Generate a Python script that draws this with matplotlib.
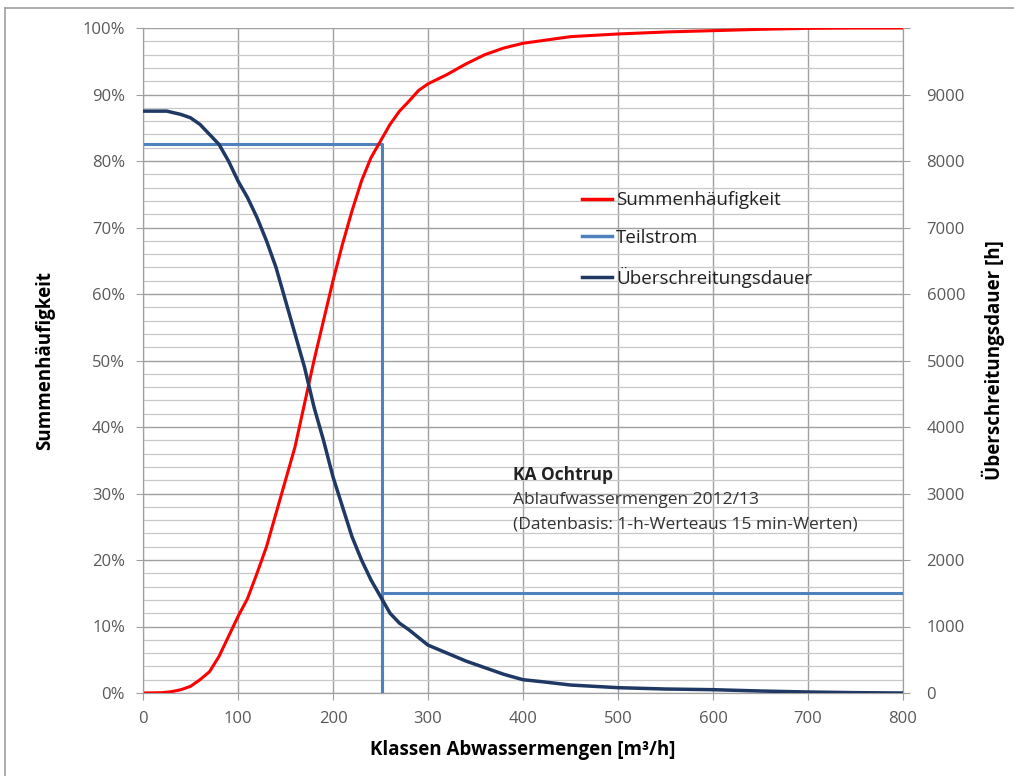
import numpy as np
import matplotlib.pyplot as plt
from matplotlib.lines import Line2D

plt.rcParams['font.family'] = ['Open Sans', 'DejaVu Sans']

# Summenhäufigkeit [%] over Klassen Abwassermengen [m3/h]
x_sum = [0, 20, 30, 40, 50, 60, 70, 80, 90, 100, 110, 120, 130, 140, 150, 160,
         170, 180, 190, 200, 210, 220, 230, 240, 250, 260, 270, 280, 290, 300,
         320, 340, 360, 380, 400, 420, 450, 500, 550, 600, 650, 700, 750, 800]
summe = [0, 0.05, 0.2, 0.5, 1.0, 2.0, 3.2, 5.5, 8.5, 11.5, 14.2, 18, 22, 27, 32, 37,
         43.5, 50, 56, 62, 67.5, 72.5, 77, 80.5, 83, 85.5, 87.5, 89, 90.6, 91.6,
         93, 94.6, 96, 97, 97.7, 98.1, 98.7, 99.1, 99.4, 99.6, 99.8, 99.95, 100, 100]

# Überschreitungsdauer [h]
x_dauer = [0, 25, 40, 50, 60, 70, 80, 90, 100, 110, 120, 130, 140, 150, 160, 170,
           180, 190, 200, 210, 220, 230, 240, 250, 260, 270, 280, 293, 300, 320,
           340, 360, 380, 400, 420, 450, 500, 550, 600, 650, 700, 750, 800]
dauer = [8750, 8750, 8700, 8650, 8550, 8400, 8250, 8000, 7700, 7450, 7150, 6800, 6400,
         5900, 5400, 4900, 4300, 3800, 3250, 2800, 2350, 2000, 1700, 1450, 1200, 1050,
         950, 800, 720, 600, 480, 380, 280, 200, 170, 120, 80, 60, 50, 30, 15, 5, 0]

# Teilstrom step [%]
x_teil = [0, 252, 252, 252, 800]
teil = [82.5, 82.5, 0, 15, 15]

red = '#ff0000'
light_blue = '#4f81bd'
navy = '#1f3864'
grey_txt = '#595959'

fig = plt.figure(figsize=(10.14, 7.76), dpi=100)
ax = fig.add_axes([143 / 1014, 1 - 693 / 776, 760 / 1014, 665 / 776])
ax2 = ax.twinx()

ax.set_xlim(0, 800)
ax.set_ylim(0, 100)
ax2.set_ylim(0, 10000)

ax.set_xticks(np.arange(0, 801, 100))
ax.set_yticks(np.arange(0, 101, 10))
ax.set_yticks(np.arange(0, 101, 2), minor=True)
ax.set_yticklabels([f'{v}%' for v in range(0, 101, 10)])
ax2.set_yticks(np.arange(0, 10001, 1000))
ax2.set_yticklabels([str(v) for v in range(0, 10000, 1000)] + [''])

ax.grid(which='major', color='#a0a0a0', lw=1.0)
ax.grid(which='minor', axis='y', color='#c8c8c8', lw=0.9)
ax.set_axisbelow(True)

for a in (ax, ax2):
    a.spines['top'].set_visible(False)
    for s in ('left', 'right', 'bottom'):
        a.spines[s].set_color('#a0a0a0')
    a.tick_params(colors='#a0a0a0', labelcolor=grey_txt, labelsize=12, length=5)
ax.tick_params(axis='y', which='minor', length=0)
ax.tick_params(axis='x', pad=8)
ax.tick_params(axis='y', pad=8)
ax2.tick_params(axis='y', pad=12)

ax.plot(x_teil, teil, color=light_blue, lw=2.2, zorder=3)
ax.plot(x_sum, summe, color=red, lw=2.2, zorder=4)
ax2.plot(x_dauer, dauer, color=navy, lw=2.5, zorder=4)

handles = [Line2D([], [], color=red, lw=2.5),
           Line2D([], [], color=light_blue, lw=2.5),
           Line2D([], [], color=navy, lw=2.5)]
ax2.legend(handles, ['Summenhäufigkeit', 'Teilstrom', 'Überschreitungsdauer'],
           loc='upper left', bbox_to_anchor=(0.556, 0.78), frameon=False,
           fontsize=13.5, handlelength=1.6, handletextpad=0.2, labelspacing=1.05,
           labelcolor='#222222')

ax.text(389, 32.8, 'KA Ochtrup', fontsize=12.5, fontweight='bold', color='#222222', va='center')
ax.text(389, 29.0, 'Ablaufwassermengen 2012/13', fontsize=12.5, color='#333333', va='center')
ax.text(389, 25.4, '(Datenbasis: 1-h-Werteaus 15 min-Werten)', fontsize=12.5, color='#333333', va='center')

ax.set_xlabel('Klassen Abwassermengen [m³/h]', fontsize=13.5, fontweight='bold', labelpad=9)
ax.set_ylabel('Summenhäufigkeit', fontsize=13.5, fontweight='bold', labelpad=20)
ax2.set_ylabel('Überschreitungsdauer [h]', fontsize=13.5, fontweight='bold', labelpad=12)

# outer chart frame (left and top edges visible)
fig.add_artist(Line2D([5 / 1014, 5 / 1014], [0, 1 - 8 / 776], color='#a0a0a0', lw=1.2))
fig.add_artist(Line2D([5 / 1014, 1], [1 - 8 / 776, 1 - 8 / 776], color='#a0a0a0', lw=1.2))

fig.savefig('out.png', dpi=100)
